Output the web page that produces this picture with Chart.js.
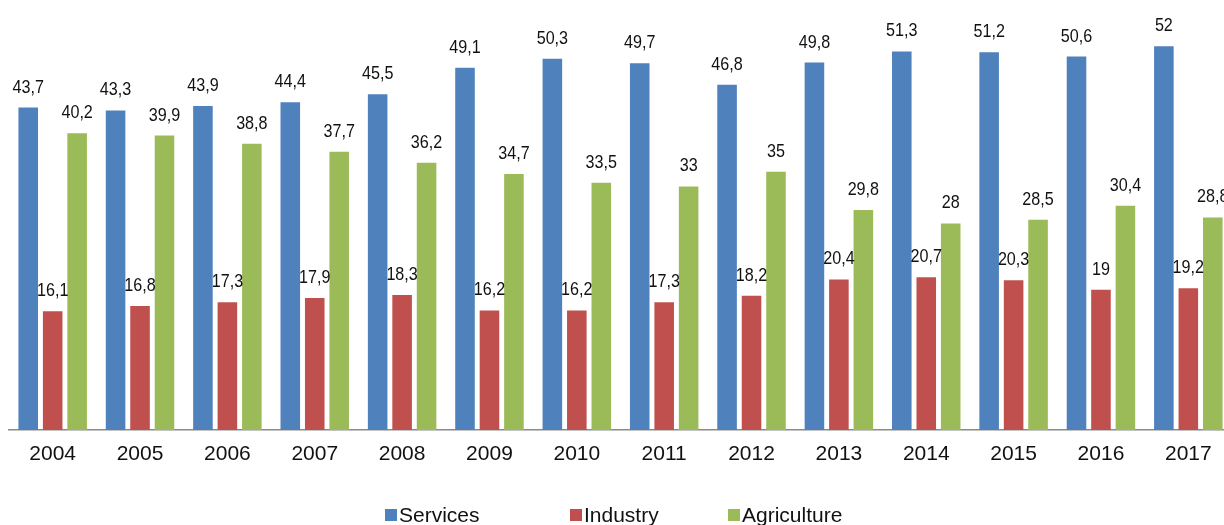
<!DOCTYPE html>
<html>
<head>
<meta charset="utf-8">
<script src="https://cdn.jsdelivr.net/npm/chart.js@4.4.1/dist/chart.umd.min.js"></script>
<style>
  html, body { margin: 0; padding: 0; background: #fff; overflow: hidden; }
  #wrap { position: absolute; left: 0; top: 0; width: 1240px; height: 525px; }
</style>
</head>
<body>
<div id="wrap"><canvas id="c" width="1240" height="525"></canvas></div>
<script>
const categories = ['2004','2005','2006','2007','2008','2009','2010','2011','2012','2013','2014','2015','2016','2017'];
const services = [43.7, 43.3, 43.9, 44.4, 45.5, 49.1, 50.3, 49.7, 46.8, 49.8, 51.3, 51.2, 50.6, 52];
const industry = [16.1, 16.8, 17.3, 17.9, 18.3, 16.2, 16.2, 17.3, 18.2, 20.4, 20.7, 20.3, 19, 19.2];
const agriculture = [40.2, 39.9, 38.8, 37.7, 36.2, 34.7, 33.5, 33, 35, 29.8, 28, 28.5, 30.4, 28.8];
const seriesNames = ['Services', 'Industry', 'Agriculture'];
const seriesColors = ['#4F81BD', '#C0504D', '#9BBB59'];

const valueLabels = {
  id: 'valueLabels',
  afterDatasetsDraw(chart) {
    const ctx = chart.ctx;
    const sx = 0.85;
    ctx.save();
    ctx.font = '19px "Liberation Sans", Arial, sans-serif';
    ctx.fillStyle = '#111';
    ctx.textAlign = 'center';
    ctx.textBaseline = 'alphabetic';
    chart.data.datasets.forEach((ds, i) => {
      const meta = chart.getDatasetMeta(i);
      meta.data.forEach((el, j) => {
        const txt = String(ds.data[j]).replace('.', ',');
        ctx.save();
        ctx.translate(el.x, el.y - 15);
        ctx.scale(sx, 1);
        ctx.fillText(txt, 0, 0);
        ctx.restore();
      });
    });
    ctx.restore();
  }
};

const legendPositions = [385, 570, 728];
const customLegend = {
  id: 'customLegend',
  afterDraw(chart) {
    const ctx = chart.ctx;
    ctx.save();
    ctx.font = '21px "Liberation Sans", Arial, sans-serif';
    ctx.textBaseline = 'alphabetic';
    ctx.textAlign = 'left';
    chart.data.datasets.forEach((ds, i) => {
      const x = legendPositions[i];
      ctx.fillStyle = ds.backgroundColor;
      ctx.fillRect(x, 509, 12, 12);
      ctx.fillStyle = '#111';
      ctx.fillText(ds.label, x + 14, 522);
    });
    ctx.restore();
  }
};

new Chart(document.getElementById('c'), {
  type: 'bar',
  data: {
    labels: categories,
    datasets: [
      { label: seriesNames[0], data: services, backgroundColor: seriesColors[0] },
      { label: seriesNames[1], data: industry, backgroundColor: seriesColors[1] },
      { label: seriesNames[2], data: agriculture, backgroundColor: seriesColors[2] }
    ]
  },
  options: {
    responsive: false,
    animation: false,
    events: [],
    layout: { padding: { left: 9, right: 8, top: 2, bottom: 0 } },
    datasets: { bar: { categoryPercentage: 0.84, barPercentage: 0.8 } },
    plugins: { legend: { display: false }, tooltip: { enabled: false } },
    scales: {
      x: {
        grid: { display: false, drawTicks: false },
        border: { display: true, color: '#8a8a8a', width: 1.5 },
        ticks: { color: '#111', font: { family: '"Liberation Sans", Arial, sans-serif', size: 21 }, padding: 12, maxRotation: 0, autoSkip: false },
        afterFit(scale) { scale.height = 95; }
      },
      y: {
        display: false,
        min: 0,
        max: 58
      }
    }
  },
  plugins: [valueLabels, customLegend]
});
</script>
</body>
</html>
